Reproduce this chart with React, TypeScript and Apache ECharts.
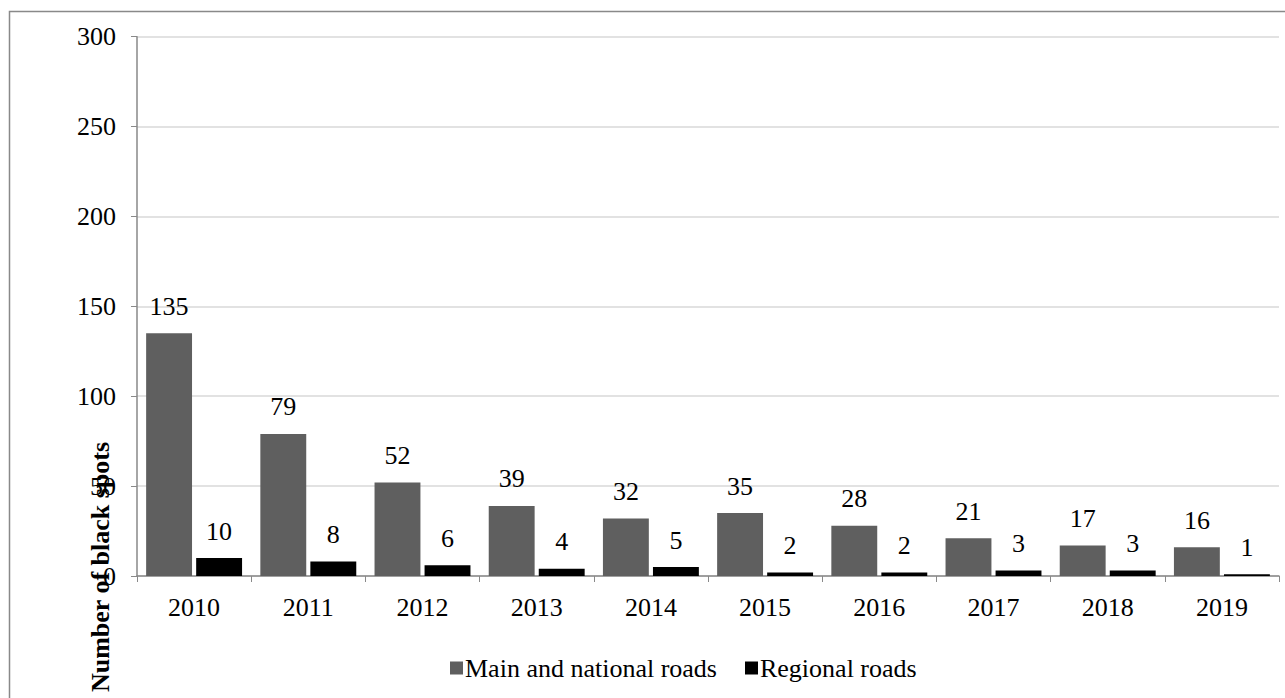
import React, { useEffect, useRef } from "react";
import * as echarts from "echarts";

const years = ["2010", "2011", "2012", "2013", "2014", "2015", "2016", "2017", "2018", "2019"];
const mainRoads = [135, 79, 52, 39, 32, 35, 28, 21, 17, 16];
const regionalRoads = [10, 8, 6, 4, 5, 2, 2, 3, 3, 1];
const seriesNames = ["Main and national roads", "Regional roads"];
const yAxisTitle = "Number of black spots";

const FONT = "'Liberation Serif', 'Times New Roman', serif";

export default function App() {
  const ref = useRef<HTMLDivElement>(null);
  useEffect(() => {
    if (!ref.current) return;
    const chart = echarts.init(ref.current, undefined, { renderer: "svg" });
    const labelStyle = {
      show: true,
      position: "top",
      distance: 14,
      color: "#000",
      fontFamily: FONT,
      fontSize: 26,
    };
    chart.setOption({
      animation: false,
      backgroundColor: "#fff",
      textStyle: { fontFamily: FONT },
      grid: { left: 137, right: 6, top: 36.7, bottom: 122, containLabel: false },
      legend: {
        left: 450,
        top: 655,
        padding: 0,
        itemWidth: 13,
        itemHeight: 13,
        itemGap: 28,
        icon: "rect",
        textStyle: { fontFamily: FONT, fontSize: 26, color: "#000", padding: [0, 0, 0, -3] },
        data: seriesNames,
      },
      xAxis: {
        type: "category",
        data: years,
        axisLine: { lineStyle: { color: "#898989", width: 1.5 } },
        axisTick: { show: true, length: 6, inside: false, lineStyle: { color: "#898989" } },
        axisLabel: { color: "#000", fontFamily: FONT, fontSize: 26, margin: 18 },
      },
      yAxis: {
        type: "value",
        min: 0,
        max: 300,
        interval: 50,
        axisLine: { show: true, lineStyle: { color: "#898989", width: 1.5 } },
        axisTick: { show: true, length: 6, lineStyle: { color: "#898989" } },
        axisLabel: { color: "#000", fontFamily: FONT, fontSize: 26, margin: 21 },
        splitLine: { show: true, lineStyle: { color: "#d9d9d9", width: 1.5 } },
      },
      graphic: [
        {
          type: "rect",
          silent: true,
          shape: { x: 9.5, y: 11.5, width: 1300, height: 720 },
          style: { fill: "none", stroke: "#898989", lineWidth: 1.5 },
        },
        {
          type: "text",
          x: 100,
          y: 567,
          rotation: Math.PI / 2,
          style: {
            text: yAxisTitle,
            fontFamily: FONT,
            fontSize: 26,
            fontWeight: "bold",
            fill: "#000",
            align: "center",
            verticalAlign: "middle",
          },
        },
      ],
      series: [
        {
          name: seriesNames[0],
          type: "bar",
          data: mainRoads,
          barGap: "9%",
          barCategoryGap: "16%",
          itemStyle: { color: "#5f5f5f" },
          label: labelStyle,
        },
        {
          name: seriesNames[1],
          type: "bar",
          data: regionalRoads,
          barGap: "9%",
          barCategoryGap: "16%",
          itemStyle: { color: "#000000" },
          label: labelStyle,
        },
      ],
    });
    return () => chart.dispose();
  }, []);
  return (
    <div
      ref={ref}
      style={{ position: "fixed", left: 0, top: 0, width: 1285, height: 698, background: "#fff" }}
    />
  );
}
